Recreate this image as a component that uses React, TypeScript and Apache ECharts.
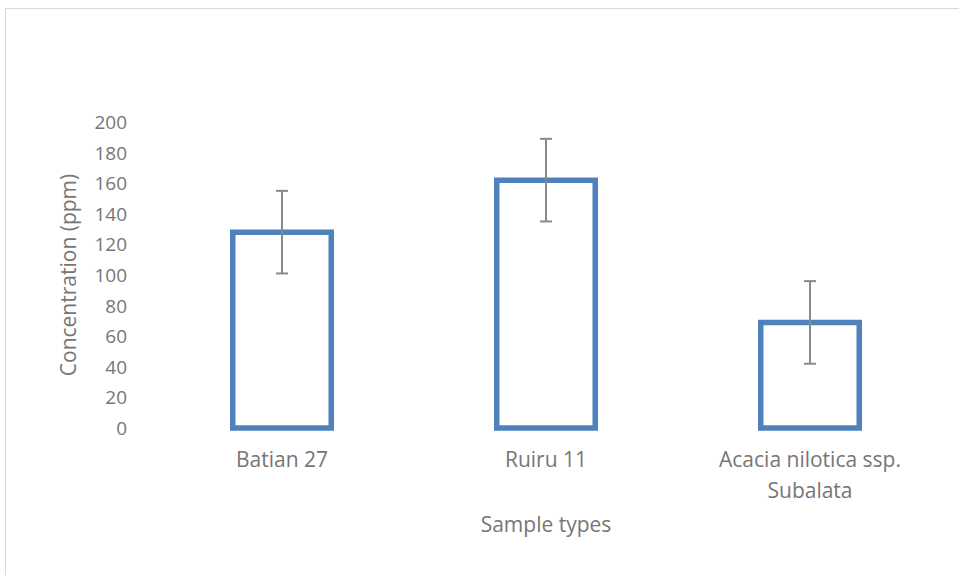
import React, { useEffect, useRef } from "react";
import * as echarts from "echarts";

const categories = ["Batian 27", "Ruiru 11", "Acacia nilotica ssp.\nSubalata"];
const concentrations = [128, 162, 69];
const errors = [27, 27, 27];
const yTicks = { min: 0, max: 200, interval: 20 };

const TEXT = "#767676";
const FONT = "'Open Sans', sans-serif";

export default function App() {
  const ref = useRef<HTMLDivElement>(null);
  useEffect(() => {
    if (!ref.current) return;
    const chart = echarts.init(ref.current, null, { renderer: "svg" });
    const barData = concentrations.map((v, i) => [i, v]);
    const errData = concentrations.map((v, i) => [i, v - errors[i], v + errors[i]]);
    chart.setOption({
      animation: false,
      backgroundColor: "#ffffff",
      textStyle: { fontFamily: FONT },
      graphic: [
        {
          type: "rect",
          shape: { x: 5.5, y: 8.5, width: 1000, height: 1000 },
          style: { fill: "none", stroke: "#d9d9d9", lineWidth: 1 },
          silent: true,
        },
      ],
      grid: { left: 150, right: 17, top: 122, bottom: 147, containLabel: false },
      xAxis: {
        type: "category",
        data: categories,
        name: "Sample types",
        nameLocation: "middle",
        nameGap: 85,
        nameTextStyle: { color: TEXT, fontSize: 21, fontFamily: FONT },
        axisLine: { show: false },
        axisTick: { show: false },
        axisLabel: { color: TEXT, fontSize: 21, fontFamily: FONT, margin: 15, lineHeight: 31 },
      },
      yAxis: {
        type: "value",
        min: yTicks.min,
        max: yTicks.max,
        interval: yTicks.interval,
        name: "Concentration (ppm)",
        nameLocation: "middle",
        nameGap: 72,
        nameTextStyle: { color: TEXT, fontSize: 21, fontFamily: FONT },
        axisLine: { show: false },
        axisTick: { show: false },
        splitLine: { show: false },
        axisLabel: { color: TEXT, fontSize: 19, fontFamily: FONT, margin: 23 },
      },
      series: [
        {
          type: "custom",
          data: barData,
          z: 2,
          renderItem: (params: any, api: any) => {
            const top = api.coord([api.value(0), api.value(1)]);
            const base = api.coord([api.value(0), 0]);
            const w = api.size([1, 0])[0] * 0.373;
            return {
              type: "rect",
              shape: { x: top[0] - w / 2, y: top[1], width: w, height: base[1] - top[1] },
              style: { fill: "#ffffff", stroke: "#4f81bd", lineWidth: 5.5 },
            };
          },
        },
        {
          type: "custom",
          data: errData,
          z: 5,
          renderItem: (params: any, api: any) => {
            const x = api.value(0);
            const lo = api.coord([x, api.value(1)]);
            const hi = api.coord([x, api.value(2)]);
            const cap = 6;
            const style = { stroke: "#898989", lineWidth: 2, fill: "none" };
            return {
              type: "group",
              children: [
                { type: "line", shape: { x1: hi[0], y1: hi[1], x2: lo[0], y2: lo[1] }, style },
                { type: "line", shape: { x1: hi[0] - cap, y1: hi[1], x2: hi[0] + cap, y2: hi[1] }, style },
                { type: "line", shape: { x1: lo[0] - cap, y1: lo[1], x2: lo[0] + cap, y2: lo[1] }, style },
              ],
            };
          },
        },
      ],
    });
    return () => chart.dispose();
  }, []);
  return (
    <div
      ref={ref}
      style={{ position: "fixed", left: 0, top: 0, width: 959, height: 575 }}
    />
  );
}
